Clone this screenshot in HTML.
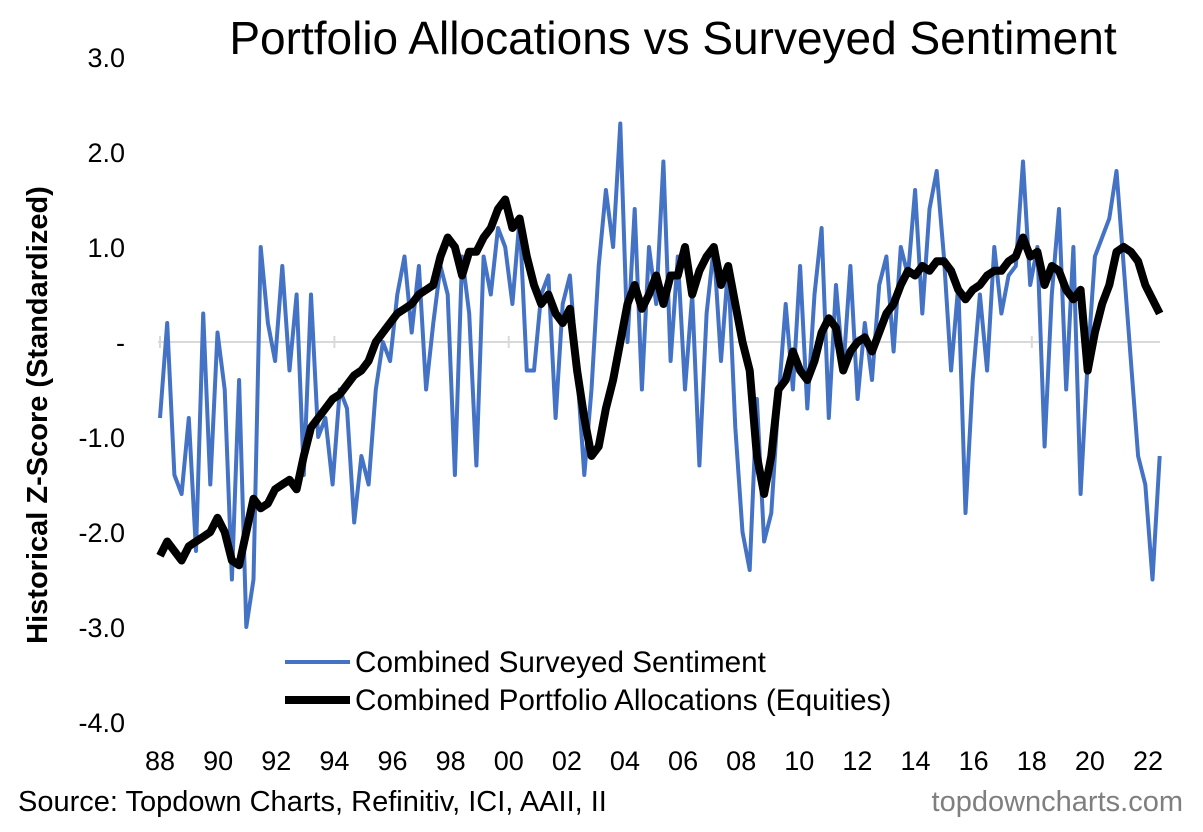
<!DOCTYPE html>
<html><head><meta charset="utf-8"><style>
body{margin:0;background:#fff;font-family:"Liberation Sans",Arial,sans-serif;}
svg text{font-family:"Liberation Sans",Arial,sans-serif;}
</style></head><body>
<svg id="chart" width="1203" height="827" xmlns="http://www.w3.org/2000/svg">
<text x="673" y="54" font-size="46" text-anchor="middle">Portfolio Allocations vs Surveyed Sentiment</text>
<text transform="translate(47,415) rotate(-90)" font-size="29" font-weight="bold" text-anchor="middle">Historical Z-Score (Standardized)</text>
<g id="yticks"></g><g id="xticks"></g><g id="series"></g>
<g>
<line x1="285" y1="662" x2="350" y2="662" stroke="#4472C4" stroke-width="4"/>
<text x="355" y="672" font-size="29.7">Combined Surveyed Sentiment</text>
<line x1="285" y1="700" x2="350" y2="700" stroke="#000" stroke-width="8"/>
<text x="355" y="710" font-size="29.7">Combined Portfolio Allocations (Equities)</text>
</g>
<text x="18" y="811" font-size="29">Source: Topdown Charts, Refinitiv, ICI, AAII, II</text>
<text x="1183" y="811" font-size="29" fill="#7f7f7f" text-anchor="end">topdowncharts.com</text>
</svg>
<script>
const yTicks=[3,2,1,0,-1,-2,-3,-4];
const yTickLabels=["3.0","2.0","1.0","-","-1.0","-2.0","-3.0","-4.0"];
const xTickLabels=["88","90","92","94","96","98","00","02","04","06","08","10","12","14","16","18","20","22"];
const allocations=[-2.25,-2.1,-2.2,-2.3,-2.15,-2.1,-2.05,-2.0,-1.85,-2.0,-2.3,-2.35,-2.0,-1.65,-1.75,-1.7,-1.55,-1.5,-1.45,-1.55,-1.2,-0.9,-0.8,-0.7,-0.6,-0.55,-0.45,-0.35,-0.3,-0.2,0.0,0.1,0.2,0.3,0.35,0.4,0.5,0.55,0.6,0.9,1.1,1.0,0.7,0.95,0.95,1.1,1.2,1.4,1.5,1.2,1.3,0.9,0.6,0.4,0.5,0.3,0.2,0.35,-0.3,-0.8,-1.2,-1.1,-0.7,-0.4,0.0,0.4,0.6,0.35,0.5,0.7,0.4,0.7,0.7,1.0,0.5,0.75,0.9,1.0,0.6,0.8,0.4,0.0,-0.3,-1.2,-1.6,-1.2,-0.5,-0.4,-0.1,-0.3,-0.4,-0.2,0.1,0.25,0.15,-0.3,-0.1,0.0,0.05,-0.1,0.1,0.3,0.4,0.6,0.75,0.7,0.8,0.75,0.85,0.85,0.75,0.55,0.45,0.55,0.6,0.7,0.75,0.75,0.85,0.9,1.1,0.9,0.95,0.6,0.8,0.75,0.55,0.45,0.55,-0.3,0.1,0.4,0.6,0.95,1.0,0.95,0.85,0.6,0.45,0.3];
const sentiment=[-0.8,0.2,-1.4,-1.6,-0.8,-2.2,0.3,-1.5,0.1,-0.5,-2.5,-0.4,-3.0,-2.5,1.0,0.2,-0.2,0.8,-0.3,0.5,-1.4,0.5,-1.0,-0.8,-1.5,-0.5,-0.7,-1.9,-1.2,-1.5,-0.5,0.0,-0.2,0.5,0.9,0.1,0.8,-0.5,0.2,0.8,0.5,-1.4,0.9,0.3,-1.3,0.9,0.5,1.2,1.0,0.4,1.3,-0.3,-0.3,0.5,0.7,-0.8,0.4,0.7,-0.3,-1.4,-0.5,0.8,1.6,1.0,2.3,0.0,1.4,-0.5,1.0,0.4,1.9,-0.2,0.9,-0.5,0.5,-1.3,0.3,1.0,-0.2,0.8,-0.9,-2.0,-2.4,-0.6,-2.1,-1.8,-0.6,0.4,-0.5,0.8,-0.7,0.5,1.2,-0.8,0.6,-0.3,0.8,-0.6,0.2,-0.4,0.6,0.9,-0.1,1.0,0.7,1.6,0.3,1.4,1.8,0.9,-0.3,0.6,-1.8,-0.4,0.5,-0.3,1.0,0.3,0.7,0.8,1.9,0.6,1.0,-1.1,0.5,1.4,-0.5,1.0,-1.6,-0.2,0.9,1.1,1.3,1.8,0.8,-0.2,-1.2,-1.5,-2.5,-1.2];
const NS='http://www.w3.org/2000/svg';
const y=v=>342-v*95;
const xYear=t=>160+t*29.06;
const xIdx=(i,n)=>xYear(i*34.4/(n-1));
const yt=document.getElementById('yticks');
yTicks.forEach((v,i)=>{const t=document.createElementNS(NS,'text');
t.setAttribute('x',125);t.setAttribute('y',y(v)+10);t.setAttribute('font-size','27');t.setAttribute('text-anchor','end');


t.textContent=yTickLabels[i];yt.appendChild(t);});
const xt=document.getElementById('xticks');
const zl=document.createElementNS(NS,'line');
zl.setAttribute('x1',158);zl.setAttribute('x2',1160);zl.setAttribute('y1',342);zl.setAttribute('y2',342);zl.setAttribute('stroke','#d9d9d9');zl.setAttribute('stroke-width','2');


xt.appendChild(zl);
for(let k=0;k<=34;k+=6){const tk=document.createElementNS(NS,'line');const xx=xYear(k);
tk.setAttribute('x1',xx);tk.setAttribute('x2',xx);tk.setAttribute('y1',336);tk.setAttribute('y2',348);tk.setAttribute('stroke','#d9d9d9');tk.setAttribute('stroke-width','2');


xt.appendChild(tk);}
xTickLabels.forEach((l,i)=>{const t=document.createElementNS(NS,'text');
t.setAttribute('x',xYear(i*2));t.setAttribute('y',770);t.setAttribute('font-size','27');t.setAttribute('text-anchor','middle');


t.textContent=l;xt.appendChild(t);});
const sg=document.getElementById('series');
function draw(arr,col,w,name){const p=document.createElementNS(NS,'path');
p.setAttribute('d',arr.map((v,i)=>(i?'L':'M')+xIdx(i,arr.length).toFixed(1)+','+y(v).toFixed(1)).join(''));
p.setAttribute('fill','none');p.setAttribute('stroke',col);p.setAttribute('stroke-width',w);p.setAttribute('stroke-linejoin','round');


sg.appendChild(p);}
draw(sentiment,'#4472C4',4,'sentiment-line');
draw(allocations,'#000',8,'allocations-line');
</script>
</body></html>
